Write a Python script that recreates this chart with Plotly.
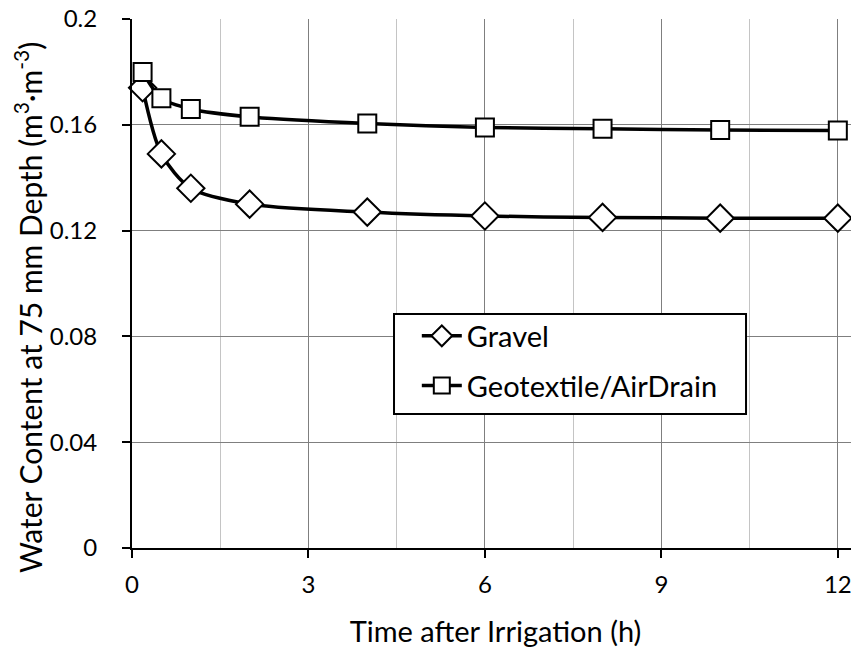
import plotly.graph_objects as go

# hours after irrigation
time_h = [0.18, 0.5, 1, 2, 4, 6, 8, 10, 12]

# volumetric water content at 75 mm depth (m3/m3)
gravel = [0.174, 0.149, 0.136, 0.130, 0.127, 0.1255, 0.125, 0.1247, 0.1247]
geotextile = [0.180, 0.170, 0.166, 0.163, 0.1605, 0.159, 0.1585, 0.158, 0.1578]

x_ticks = [0, 3, 6, 9, 12]
y_ticks = [0, 0.04, 0.08, 0.12, 0.16, 0.2]
y_tick_text = ["0", "0.04", "0.08", "0.12", "0.16", "0.2"]

FONT = "Lato"

fig = go.Figure()

fig.add_trace(go.Scatter(
    x=time_h, y=gravel, name="Gravel", mode="lines+markers",
    line=dict(color="black", width=3.5, shape="spline", smoothing=0.8),
    marker=dict(symbol="diamond", size=21, color="white",
                line=dict(color="black", width=2)),
    legendgroup="a", cliponaxis=False,
))
fig.add_trace(go.Scatter(
    x=time_h, y=geotextile, name="Geotextile/AirDrain", mode="lines+markers",
    line=dict(color="black", width=3.5, shape="spline", smoothing=0.8),
    marker=dict(symbol="square", size=18, color="white",
                line=dict(color="black", width=2)),
    legendgroup="b", cliponaxis=False,
))

# legend frame (wider than plotly would size it)
fig.add_shape(type="rect", xref="paper", yref="paper",
              x0=0.3604, x1=0.8446, y0=0.2533, y1=0.4423,
              fillcolor="white", line=dict(color="black", width=2), layer="above")

# y title as annotation: the original sits a bit below the axis centre
fig.add_annotation(
    text="Water Content at 75 mm Depth (m<sup>3</sup>·m<sup>-3</sup>)",
    xref="paper", yref="paper", x=-0.142, y=0.455, xanchor="center", yanchor="middle",
    textangle=-90, showarrow=False, font=dict(size=30),
)

# page body has an 8px margin, so the figure is drawn 8px smaller
fig.update_layout(
    width=851, height=640,
    margin=dict(l=124, r=0, t=11, b=100),
    paper_bgcolor="white", plot_bgcolor="white",
    font=dict(family=FONT, size=24, color="black"),
    showlegend=True,
    legend=dict(
        x=0.367, y=0.449, xanchor="left", yanchor="top",
        bgcolor="rgba(0,0,0,0)", borderwidth=0,
        font=dict(size=29), traceorder="grouped", tracegroupgap=9,
        itemwidth=40, indentation=18,
    ),
    xaxis=dict(
        range=[0, 12.36], tickvals=x_ticks, ticks="outside", ticklen=8,
        tickwidth=1.5, tickcolor="black", automargin=False,
        tickfont=dict(family=FONT, size=24), ticklabelstandoff=6,
        ticklabeloverflow="allow",
        showline=True, linecolor="black", linewidth=2,
        showgrid=True, gridcolor="#7f7f7f", gridwidth=1.2,
        minor=dict(dtick=1.5, showgrid=True, gridcolor="#c4c4c4", gridwidth=1.2, ticks=""),
        zeroline=False,
        title=dict(text="Time after Irrigation (h)", font=dict(size=29), standoff=26),
    ),
    yaxis=dict(
        range=[0, 0.2], tickvals=y_ticks, ticktext=y_tick_text, ticks="outside",
        ticklen=8, tickwidth=1.5, tickcolor="black", automargin=False,
        tickfont=dict(family=FONT, size=24), ticklabelstandoff=20,
        ticklabeloverflow="allow",
        showline=True, linecolor="black", linewidth=2,
        showgrid=True, gridcolor="#7f7f7f", gridwidth=1.2,
        zeroline=False,
    ),
)

fig.write_html("out.html")
